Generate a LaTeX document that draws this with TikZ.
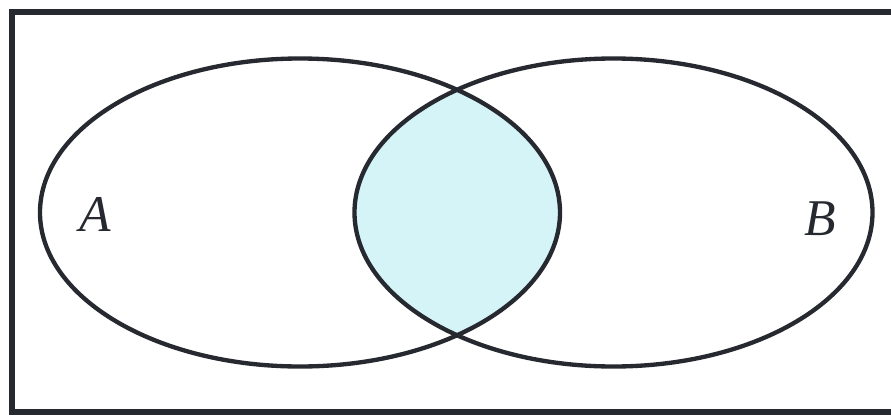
\documentclass[tikz,border=0pt]{standalone}
\usepackage{amsmath,amssymb}
\usepackage{fontspec}
\setmainfont{Liberation Serif}
\newfontfamily\setfont[ItalicFont={Liberation Serif Italic}]{Liberation Serif}
\usepackage{tikz}

\definecolor{inkgray}{RGB}{38,42,48}
\definecolor{lenscyan}{RGB}{212,244,248}

\begin{document}
\begin{tikzpicture}[x=0.03cm,y=-0.03cm,font=\setfont\fontsize{44}{50}\selectfont\itshape]
  \useasboundingbox (0,0) rectangle (891,416);
  % shaded intersection
  \begin{scope}
    \clip (300,212.5) ellipse [x radius=260,y radius=154];
    \fill[lenscyan] (613.5,212.5) ellipse [x radius=259,y radius=154];
  \end{scope}
  \draw[inkgray,line width=4.4pt] (12,12) rectangle (900,412);
  \draw[inkgray,line width=3.7pt] (300,212.5) ellipse [x radius=260,y radius=154];
  \draw[inkgray,line width=3.7pt] (613.5,212.5) ellipse [x radius=259,y radius=154];
  \node[inkgray] (labA) at (95,214) {A};
  \node[inkgray] (labB) at (820,219) {B};
\end{tikzpicture}
\end{document}
